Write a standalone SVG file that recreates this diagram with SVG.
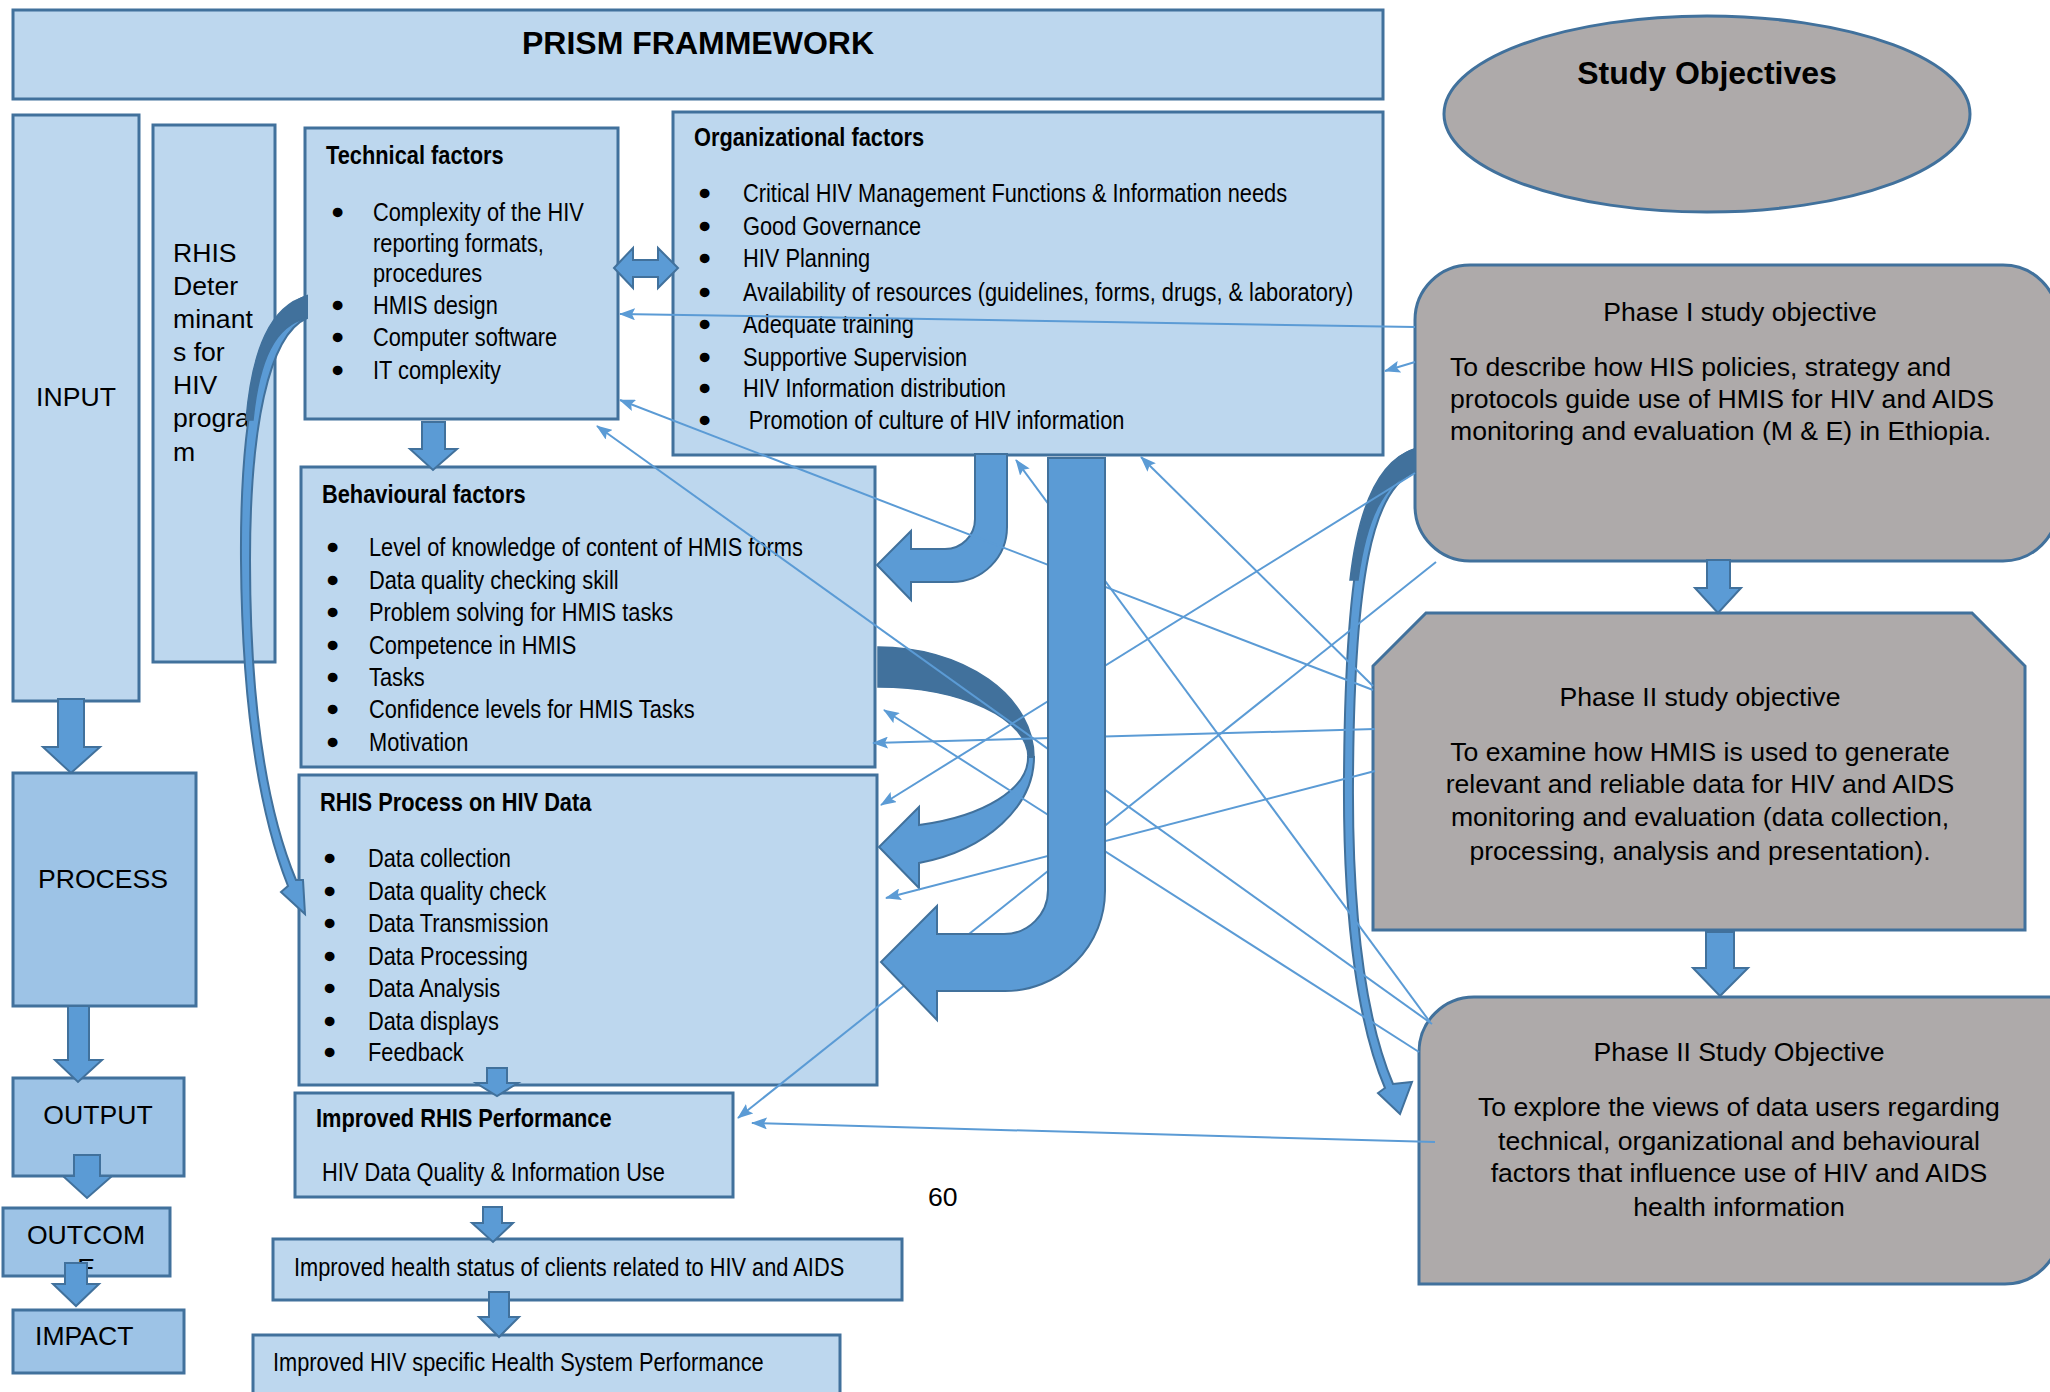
<svg xmlns="http://www.w3.org/2000/svg" width="2050" height="1392" viewBox="0 0 2050 1392">
<style>
.box{fill:#BDD7EE;stroke:#41719C;stroke-width:3}
.box2{fill:#9DC3E6;stroke:#41719C;stroke-width:3}
.gray{fill:#AEAAAA;stroke:#41719C;stroke-width:3}
.ba{fill:#5B9BD5;stroke:#41719C;stroke-width:2}
.dk{fill:#41719C;stroke:#41719C;stroke-width:1.5}
.conn{stroke:#5B9BD5;stroke-width:2;fill:none;marker-end:url(#ah)}
.n{font-family:'Liberation Sans',Arial,sans-serif;font-size:26.6px;fill:#000}
.nb{font-family:'Liberation Sans',Arial,sans-serif;font-size:26.6px;font-weight:bold;fill:#000}
.r{font-family:'Liberation Sans',Arial,sans-serif;font-size:26.6px;fill:#000}
.rb{font-family:'Liberation Sans',Arial,sans-serif;font-weight:bold;fill:#000}
.bul{font-family:'Liberation Sans',Arial,sans-serif;font-size:26.6px;fill:#000;stroke:#000;stroke-width:2.5}
.c{text-anchor:middle}
</style>
<defs>
<marker id="ah" viewBox="0 0 16 12" refX="15" refY="6" markerWidth="16" markerHeight="12" orient="auto" markerUnits="userSpaceOnUse">
<path d="M0,0 L16,6 L0,12 L3,6 Z" fill="#5B9BD5"/>
</marker>
<clipPath id="outcomeClip"><rect x="3" y="1208" width="167" height="67"/></clipPath>
</defs>
<rect width="2050" height="1392" fill="#fff"/>

<g id="prism">
<rect class="box" x="13" y="10" width="1370" height="89"/>
<text class="rb c" x="698" y="54" font-size="32">PRISM FRAMMEWORK</text>
</g>

<g id="input">
<rect class="box" x="13" y="115" width="126" height="586"/>
<text class="r c" x="76" y="406">INPUT</text>
</g>

<g id="rhis-determinants">
<rect class="box" x="153" y="125" width="122" height="537"/>
<text class="r" x="173" y="262">RHIS</text>
<text class="r" x="173" y="295">Deter</text>
<text class="r" x="173" y="328">minant</text>
<text class="r" x="173" y="361">s for</text>
<text class="r" x="173" y="394">HIV</text>
<text class="r" x="173" y="427">progra</text>
<text class="r" x="173" y="461">m</text>
</g>

<g id="technical">
<rect class="box" x="305" y="128" width="313" height="291"/>
<text class="nb" x="326" y="164" transform="matrix(0.82 0 0 1 58.68 0)">Technical factors</text>
<text class="bul" x="333" y="221">•</text>
<text class="bul" x="333" y="314">•</text>
<text class="bul" x="333" y="346">•</text>
<text class="bul" x="333" y="379">•</text>
<g transform="matrix(0.82 0 0 1 67.14 0)">
<text class="n" x="373" y="221">Complexity of the HIV</text>
<text class="n" x="373" y="252">reporting formats,</text>
<text class="n" x="373" y="282">procedures</text>
<text class="n" x="373" y="314">HMIS design</text>
<text class="n" x="373" y="346">Computer software</text>
<text class="n" x="373" y="379">IT complexity</text>
</g>
</g>

<g id="organizational">
<rect class="box" x="673" y="112" width="710" height="343"/>
<text class="nb" x="694" y="146" transform="matrix(0.82 0 0 1 124.92 0)">Organizational factors</text>
<text class="bul" x="700" y="202">•</text>
<text class="bul" x="700" y="235">•</text>
<text class="bul" x="700" y="267">•</text>
<text class="bul" x="700" y="301">•</text>
<text class="bul" x="700" y="333">•</text>
<text class="bul" x="700" y="366">•</text>
<text class="bul" x="700" y="397">•</text>
<text class="bul" x="700" y="429">•</text>
<g transform="matrix(0.82 0 0 1 133.74 0)">
<text class="n" x="743" y="202">Critical HIV Management Functions &amp; Information needs</text>
<text class="n" x="743" y="235">Good Governance</text>
<text class="n" x="743" y="267">HIV Planning</text>
<text class="n" x="743" y="301">Availability of resources (guidelines, forms, drugs, &amp; laboratory)</text>
<text class="n" x="743" y="333">Adequate training</text>
<text class="n" x="743" y="366">Supportive Supervision</text>
<text class="n" x="743" y="397">HIV Information distribution</text>
<text class="n" x="750" y="429">Promotion of culture of HIV information</text>
</g>
</g>

<g id="behavioural">
<rect class="box" x="301" y="467" width="574" height="300"/>
<text class="nb" x="322" y="503" transform="matrix(0.82 0 0 1 57.96 0)">Behavioural factors</text>
<text class="bul" x="328" y="556">•</text>
<text class="bul" x="328" y="589">•</text>
<text class="bul" x="328" y="621">•</text>
<text class="bul" x="328" y="654">•</text>
<text class="bul" x="328" y="686">•</text>
<text class="bul" x="328" y="718">•</text>
<text class="bul" x="328" y="751">•</text>
<g transform="matrix(0.82 0 0 1 66.42 0)">
<text class="n" x="369" y="556">Level of knowledge of content of HMIS forms</text>
<text class="n" x="369" y="589">Data quality checking skill</text>
<text class="n" x="369" y="621">Problem solving for HMIS tasks</text>
<text class="n" x="369" y="654">Competence in HMIS</text>
<text class="n" x="369" y="686">Tasks</text>
<text class="n" x="369" y="718">Confidence levels for HMIS Tasks</text>
<text class="n" x="369" y="751">Motivation</text>
</g>
</g>

<g id="rhis-process">
<rect class="box" x="299" y="775" width="578" height="310"/>
<text class="nb" x="320" y="811" transform="matrix(0.82 0 0 1 57.6 0)">RHIS Process on HIV Data</text>
<text class="bul" x="325" y="867">•</text>
<text class="bul" x="325" y="900">•</text>
<text class="bul" x="325" y="932">•</text>
<text class="bul" x="325" y="965">•</text>
<text class="bul" x="325" y="997">•</text>
<text class="bul" x="325" y="1030">•</text>
<text class="bul" x="325" y="1061">•</text>
<g transform="matrix(0.82 0 0 1 66.24 0)">
<text class="n" x="368" y="867">Data collection</text>
<text class="n" x="368" y="900">Data quality check</text>
<text class="n" x="368" y="932">Data Transmission</text>
<text class="n" x="368" y="965">Data Processing</text>
<text class="n" x="368" y="997">Data Analysis</text>
<text class="n" x="368" y="1030">Data displays</text>
<text class="n" x="368" y="1061">Feedback</text>
</g>
</g>

<g id="improved-rhis">
<rect class="box" x="295" y="1093" width="438" height="104"/>
<text class="nb" x="316" y="1127" transform="matrix(0.82 0 0 1 56.88 0)">Improved RHIS Performance</text>
<text class="n" x="322" y="1181" transform="matrix(0.82 0 0 1 57.96 0)">HIV Data Quality &amp; Information Use</text>
</g>

<g id="improved-health">
<rect class="box" x="273" y="1239" width="629" height="61"/>
<text class="n" x="294" y="1276" transform="matrix(0.82 0 0 1 52.92 0)">Improved health status of clients related to HIV and AIDS</text>
</g>

<g id="improved-system">
<rect class="box" x="253" y="1335" width="587" height="70"/>
<text class="n" x="273" y="1371" transform="matrix(0.82 0 0 1 49.14 0)">Improved HIV specific Health System Performance</text>
</g>

<g id="process">
<rect class="box2" x="13" y="773" width="183" height="233"/>
<text class="r c" x="103" y="888">PROCESS</text>
</g>
<g id="output">
<rect class="box2" x="13" y="1078" width="171" height="98"/>
<text class="r c" x="98" y="1124">OUTPUT</text>
</g>
<g id="outcome">
<rect class="box2" x="3" y="1208" width="167" height="68"/>
<text class="r c" x="86" y="1244">OUTCOM</text>
<text class="r c" x="86" y="1277" clip-path="url(#outcomeClip)">E</text>
</g>
<g id="impact">
<rect class="box2" x="13" y="1310" width="171" height="63"/>
<text class="r" x="35" y="1345">IMPACT</text>
</g>

<text class="r" x="928" y="1206" font-size="25">60</text>

<g id="study-objectives">
<ellipse cx="1707" cy="114" rx="263" ry="98" class="gray"/>
<text class="rb c" x="1707" y="84" font-size="32">Study Objectives</text>
</g>

<g id="phase1">
<rect class="gray" x="1415" y="265" width="643" height="296" rx="55" ry="55"/>
<text class="r c" x="1740" y="321">Phase I study objective</text>
<text class="r" x="1450" y="376">To describe how HIS policies, strategy and</text>
<text class="r" x="1450" y="408">protocols guide use of HMIS for HIV and AIDS</text>
<text class="r" x="1450" y="440">monitoring and evaluation (M &amp; E) in Ethiopia.</text>
</g>

<g id="phase2">
<path class="gray" d="M1373,666 L1426,613 L1972,613 L2025,666 L2025,930 L1373,930 Z"/>
<text class="r c" x="1700" y="706">Phase II study objective</text>
<text class="r c" x="1700" y="761">To examine how HMIS is used to generate</text>
<text class="r c" x="1700" y="793">relevant and reliable data for HIV and AIDS</text>
<text class="r c" x="1700" y="826">monitoring and evaluation (data collection,</text>
<text class="r c" x="1700" y="860">processing, analysis and presentation).</text>
</g>

<g id="phase2b">
<path class="gray" d="M1419,1052 A55,55 0 0 1 1474,997 L2060,997 L2060,1229 A55,55 0 0 1 2005,1284 L1419,1284 Z"/>
<text class="r c" x="1739" y="1061">Phase II Study Objective</text>
<text class="r c" x="1739" y="1116">To explore the views of data users regarding</text>
<text class="r c" x="1739" y="1150">technical, organizational and behavioural</text>
<text class="r c" x="1739" y="1182">factors that influence use of HIV and AIDS</text>
<text class="r c" x="1739" y="1216">health information</text>
</g>

<g id="block-arrows">
<polygon class="ba" points="58,699 84,699 84,747 100,747 71,773 43,747 58,747"/>
<polygon class="ba" points="68,1006 89,1006 89,1060 102,1060 78,1082 55,1060 68,1060"/>
<polygon class="ba" points="74,1155 100,1155 100,1176 112,1176 87,1198 63,1176 74,1176"/>
<polygon class="ba" points="65,1263 87,1263 87,1284 99,1284 76,1306 53,1284 65,1284"/>
<polygon class="ba" points="422,422 445,422 445,449 457,449 433,470 410,449 422,449"/>
<polygon class="ba" points="487,1068 507,1068 507,1083 518,1083 497,1096 476,1083 487,1083"/>
<polygon class="ba" points="483,1207 502,1207 502,1223 513,1223 493,1242 472,1223 483,1223"/>
<polygon class="ba" points="489,1292 509,1292 509,1317 519,1317 499,1337 479,1317 489,1317"/>
<polygon class="ba" points="1707,560 1730,560 1730,588 1741,588 1718,613 1695,588 1707,588"/>
<polygon class="ba" points="1706,932 1734,932 1734,968 1748,968 1720,996 1693,968 1706,968"/>
<polygon class="ba" points="614,268 633,248 633,260 658,260 658,248 678,268 658,288 658,277 633,277 633,288"/>
<path class="ba" d="M975,454 L1007,454 L1007,527 A55,55 0 0 1 952,582 L911,582 L911,600 L877,565 L911,531 L911,549 L945,549 A30,30 0 0 0 975,519 Z"/>
<path class="dk" d="M878,647 A156,110 0 0 1 1034,757 L1028,757 A150,70 0 0 0 878,687 Z"/>
<path class="ba" d="M1034,757 A156,110 0 0 1 919,863 L919,888 L879,847 L919,807 L919,825 A150,70 0 0 0 1028,757 Z"/>
<path class="ba" d="M307,296 C258,312 240,420 241,560 C242,700 258,810 288,886 L281,892 L305,914 L303,880 L296,880 C266,808 250,700 250,560 C250,430 268,335 307,318 Z"/>
<path class="dk" d="M307,296 C270,306 252,350 246,420 L253,420 C259,360 275,325 307,318 Z"/>
<path class="ba" d="M1415,449 C1365,465 1345,560 1344,780 C1343,930 1360,1030 1385,1088 L1378,1093 L1400,1114 L1412,1082 L1393,1084 C1368,1025 1352,930 1353,780 C1354,580 1372,488 1415,472 Z"/>
<path class="dk" d="M1415,449 C1378,460 1358,510 1350,580 L1358,580 C1366,520 1383,482 1415,472 Z"/>
</g>

<g id="connectors">
<line class="conn" x1="1415" y1="327" x2="620" y2="314"/>
<line class="conn" x1="1415" y1="362" x2="1385" y2="371"/>
<line class="conn" x1="1373" y1="690" x2="620" y2="400"/>
<line class="conn" x1="1432" y1="1024" x2="597" y2="426"/>
<line class="conn" x1="1415" y1="473" x2="881" y2="805"/>
<line class="conn" x1="1436" y1="562" x2="738" y2="1118"/>
<line class="conn" x1="1373" y1="686" x2="1141" y2="457"/>
<line class="conn" x1="1430" y1="1022" x2="1016" y2="460"/>
<line class="conn" x1="1375" y1="729" x2="873" y2="743"/>
<line class="conn" x1="1375" y1="771" x2="886" y2="898"/>
<line class="conn" x1="1419" y1="1052" x2="884" y2="710"/>
<line class="conn" x1="1435" y1="1142" x2="752" y2="1123"/>
</g>

<g id="j-arrow">
<path class="ba" d="M1048,458 L1105,458 L1105,891 A100,100 0 0 1 1005,991 L937,991 L937,1020 L881,962 L937,906 L937,934 L1004,934 A44,44 0 0 0 1048,890 Z"/>
</g>
</svg>
